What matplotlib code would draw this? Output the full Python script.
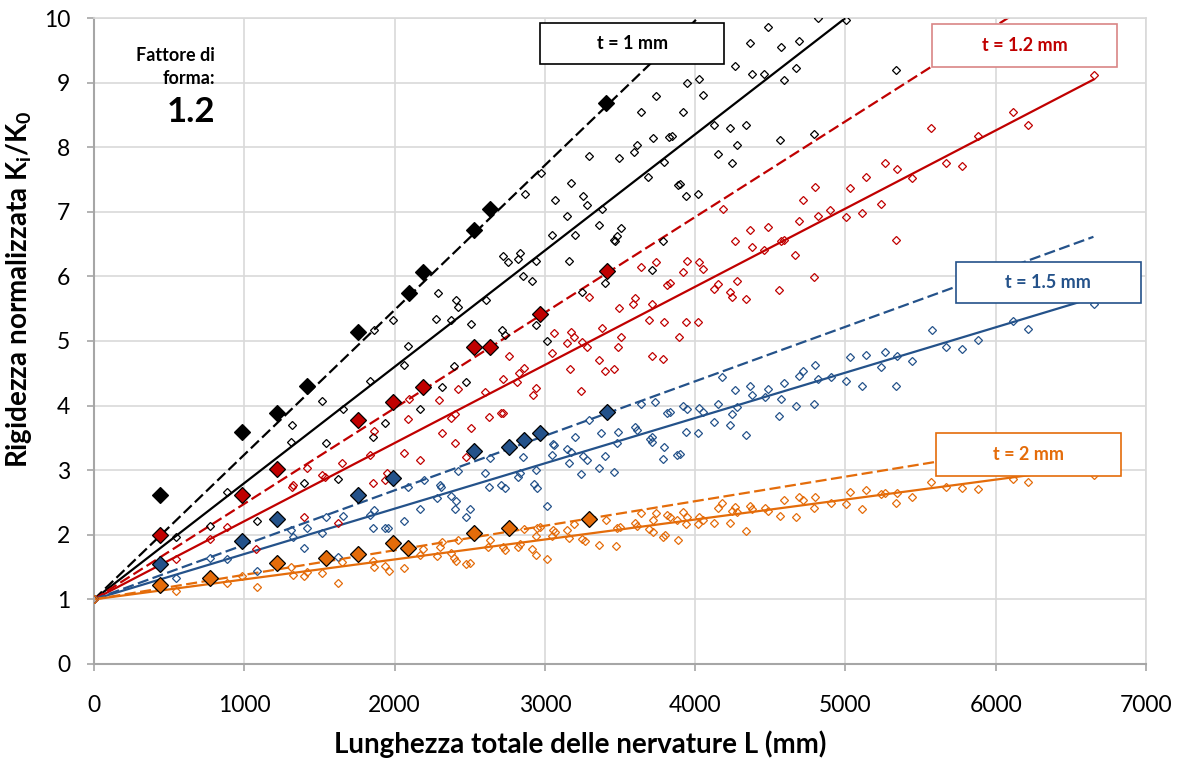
import numpy as np
import matplotlib
matplotlib.use("Agg")
import matplotlib.pyplot as plt
from matplotlib.patches import Rectangle

plt.rcParams['font.family'] = ['Lato', 'DejaVu Sans']
plt.rcParams['mathtext.default'] = 'regular'

# ---- data ----
# hollow points (all configurations)
blk_x = [0, 546, 772, 885, 1085, 1311, 1317, 1397, 1517, 1544, 1623, 1657, 1836, 1856, 1863, 1936, 1989,
         2063, 2089, 2169, 2276, 2289, 2315, 2375, 2395, 2409, 2422, 2475, 2508, 2608, 2715, 2721, 2735,
         2755, 2821, 2834, 2855, 2868, 2914, 2941, 2941, 2974, 3014, 3047, 3067, 3147, 3160, 3174, 3200,
         3247, 3253, 3280, 3293, 3360, 3380, 3400, 3460, 3467, 3480, 3493, 3506, 3593, 3613, 3639, 3686,
         3713, 3719, 3739, 3786, 3793, 3826, 3849, 3886, 3899, 3919, 3939, 3945, 4019, 4025, 4052, 4125,
         4152, 4232, 4245, 4265, 4278, 4338, 4365, 4378, 4458, 4484, 4564, 4571, 4591, 4671, 4691, 4790,
         4817, 5003, 5336]
blk_y = [1, 1.97, 2.14, 2.66, 2.21, 3.44, 3.70, 2.80, 4.07, 3.42, 2.86, 3.95, 4.38, 3.51, 5.17, 3.73, 5.32,
         4.63, 4.92, 3.95, 5.34, 5.74, 4.29, 5.32, 4.61, 5.63, 5.53, 4.37, 5.26, 5.63, 5.17, 6.32, 5.09,
         6.22, 6.27, 6.36, 6.01, 7.28, 5.93, 6.24, 5.25, 7.60, 5.00, 6.64, 7.18, 6.94, 6.24, 7.44, 6.64,
         5.76, 7.25, 7.10, 7.86, 6.79, 7.04, 5.90, 6.56, 6.55, 6.62, 7.83, 6.75, 7.93, 8.03, 8.54, 7.54,
         6.10, 8.14, 8.79, 6.55, 7.77, 8.16, 8.18, 7.41, 7.43, 8.54, 7.25, 9.00, 7.28, 9.06, 8.81, 8.35,
         7.89, 8.30, 7.75, 9.25, 8.03, 8.35, 9.61, 9.13, 9.14, 9.86, 8.11, 9.55, 9.04, 9.22, 9.64, 8.20,
         10.0, 9.97, 9.19]

red_x = [0, 546, 772, 885, 1078, 1317, 1324, 1397, 1417, 1517, 1537, 1623, 1650, 1836, 1856, 1863, 1936,
         1949, 2063, 2089, 2096, 2169, 2296, 2315, 2375, 2402, 2402, 2422, 2475, 2508, 2601, 2628, 2708,
         2721, 2721, 2761, 2814, 2828, 2861, 2921, 2941, 3047, 3060, 3147, 3167, 3174, 3193, 3240, 3247,
         3280, 3293, 3360, 3380, 3400, 3460, 3486, 3493, 3506, 3586, 3600, 3639, 3693, 3713, 3713, 3739,
         3786, 3793, 3813, 3833, 3893, 3919, 3939, 3945, 4019, 4025, 4052, 4125, 4152, 4185, 4232, 4245,
         4265, 4278, 4338, 4365, 4378, 4458, 4484, 4558, 4571, 4591, 4664, 4691, 4717, 4790, 4797, 4817,
         4897, 5003, 5030, 5110, 5136, 5236, 5263, 5336, 5343, 5443, 5569, 5669, 5775, 5882, 6114, 6214,
         6653]
red_y = [1, 1.63, 1.93, 2.12, 1.78, 2.74, 2.77, 2.28, 3.03, 2.93, 2.89, 2.18, 3.11, 3.24, 2.80, 3.61, 2.85,
         2.96, 3.27, 3.79, 4.10, 3.16, 4.09, 3.58, 3.81, 3.87, 3.42, 4.26, 3.20, 3.65, 4.21, 3.82, 3.89,
         3.89, 4.41, 4.77, 4.37, 4.50, 4.58, 4.16, 4.27, 4.81, 5.12, 4.97, 4.57, 5.14, 5.06, 4.23, 4.98,
         4.91, 5.68, 4.71, 5.20, 4.54, 4.57, 4.91, 5.51, 5.06, 5.57, 5.67, 6.15, 5.32, 5.57, 4.77, 6.22,
         4.72, 5.29, 5.87, 5.90, 5.06, 6.07, 5.29, 6.24, 5.29, 6.22, 6.11, 5.80, 5.88, 7.04, 5.76, 5.68,
         6.55, 5.93, 5.65, 6.72, 6.46, 6.41, 6.77, 5.79, 6.55, 6.56, 6.33, 6.86, 7.18, 5.99, 7.38, 6.94,
         7.03, 6.92, 7.37, 6.98, 7.54, 7.12, 7.76, 6.56, 7.66, 7.52, 8.30, 7.76, 7.71, 8.17, 8.54, 8.35,
         9.12]

blu_x = [0, 546, 772, 885, 1085, 1311, 1324, 1397, 1417, 1517, 1544, 1623, 1657, 1836, 1856, 1863, 1936,
         1956, 2063, 2089, 2169, 2196, 2282, 2302, 2309, 2375, 2402, 2409, 2422, 2475, 2502, 2601, 2628,
         2635, 2708, 2735, 2821, 2834, 2855, 2927, 2941, 2947, 3014, 3047, 3054, 3060, 3147, 3160, 3174,
         3200, 3240, 3253, 3280, 3293, 3360, 3373, 3400, 3460, 3480, 3486, 3600, 3613, 3639, 3699, 3713,
         3713, 3733, 3786, 3793, 3813, 3833, 3879, 3899, 3919, 3939, 3945, 4019, 4025, 4052, 4125, 4152,
         4178, 4232, 4245, 4265, 4278, 4338, 4365, 4378, 4464, 4484, 4558, 4571, 4591, 4671, 4691, 4717,
         4790, 4797, 4817, 4903, 5003, 5030, 5110, 5136, 5236, 5263, 5336, 5343, 5443, 5575, 5669, 5775,
         5882, 6114, 6214, 6653]
blu_y = [1, 1.33, 1.64, 1.63, 1.44, 2.07, 1.97, 1.80, 2.11, 2.03, 2.28, 1.66, 2.29, 2.31, 2.10, 2.38, 2.10,
         2.10, 2.21, 2.74, 2.40, 2.85, 2.57, 2.77, 2.74, 2.60, 2.40, 2.52, 2.99, 2.28, 2.40, 2.96, 2.74,
         3.19, 2.77, 2.72, 2.89, 2.96, 3.20, 2.79, 3.00, 2.72, 2.45, 3.24, 3.41, 3.39, 3.33, 3.11, 3.28,
         3.51, 2.94, 3.22, 3.16, 3.78, 3.03, 3.58, 3.22, 2.97, 3.42, 3.59, 3.67, 3.62, 4.02, 3.48, 3.51,
         3.44, 4.06, 3.17, 3.36, 3.89, 3.90, 3.24, 3.25, 3.99, 3.59, 3.95, 3.58, 3.96, 3.90, 3.75, 4.02,
         4.44, 3.70, 3.87, 4.24, 3.98, 3.54, 4.30, 4.16, 4.13, 4.26, 3.84, 4.10, 4.35, 3.99, 4.46, 4.54,
         4.02, 4.63, 4.41, 4.44, 4.38, 4.75, 4.30, 4.78, 4.60, 4.83, 4.30, 4.77, 4.69, 5.17, 4.91, 4.88,
         5.02, 5.31, 5.19, 5.57]

orn_x = [0, 546, 885, 985, 1085, 1311, 1324, 1397, 1417, 1517, 1623, 1650, 1856, 1863, 1936, 1963, 2063,
         2169, 2189, 2282, 2302, 2315, 2375, 2395, 2409, 2422, 2475, 2502, 2621, 2635, 2721, 2735, 2821,
         2834, 2861, 2914, 2941, 2941, 2947, 2967, 3014, 3047, 3054, 3067, 3147, 3160, 3193, 3247, 3267,
         3360, 3407, 3473, 3480, 3500, 3600, 3613, 3639, 3693, 3719, 3719, 3739, 3786, 3799, 3813, 3833,
         3879, 3886, 3919, 3939, 3945, 4019, 4025, 4052, 4125, 4152, 4178, 4232, 4245, 4265, 4278, 4338,
         4365, 4378, 4464, 4484, 4564, 4591, 4671, 4691, 4717, 4790, 4797, 4903, 5003, 5030, 5110, 5136,
         5236, 5263, 5336, 5343, 5443, 5569, 5669, 5775, 5882, 6114, 6214, 6653]
orn_y = [1, 1.13, 1.25, 1.36, 1.19, 1.50, 1.38, 1.36, 1.42, 1.41, 1.25, 1.58, 1.59, 1.50, 1.52, 1.44, 1.49,
         1.69, 1.78, 1.67, 1.81, 1.89, 1.72, 1.64, 1.59, 1.92, 1.55, 1.56, 1.81, 1.92, 1.81, 1.76, 1.81,
         1.86, 2.09, 1.78, 1.69, 1.98, 2.11, 2.12, 1.63, 1.98, 2.07, 2.04, 2.07, 1.95, 2.17, 1.93, 1.90,
         1.84, 2.23, 1.83, 2.11, 2.12, 2.18, 2.14, 2.34, 2.09, 2.23, 2.04, 2.34, 1.97, 2.00, 2.31, 2.28,
         2.23, 1.92, 2.35, 2.17, 2.28, 2.17, 2.28, 2.23, 2.18, 2.41, 2.49, 2.18, 2.37, 2.43, 2.35, 2.06,
         2.45, 2.40, 2.41, 2.37, 2.29, 2.54, 2.28, 2.58, 2.54, 2.41, 2.58, 2.49, 2.48, 2.66, 2.40, 2.69,
         2.63, 2.65, 2.49, 2.65, 2.59, 2.82, 2.74, 2.72, 2.71, 2.86, 2.82, 2.93]

# filled points (reference configurations)
blk_big_x = [439, 985, 1218, 1417, 1756, 2096, 2189, 2528, 2635, 3407]
blk_big_y = [2.62, 3.59, 3.88, 4.30, 5.14, 5.74, 6.07, 6.72, 7.04, 8.69]
red_big_x = [439, 985, 1218, 1756, 1989, 2189, 2528, 2635, 2967, 3413]
red_big_y = [2.00, 2.62, 3.02, 3.78, 4.06, 4.29, 4.90, 4.91, 5.42, 6.08]
blu_big_x = [439, 985, 1218, 1756, 1989, 2528, 2761, 2861, 2967, 3413]
blu_big_y = [1.55, 1.90, 2.24, 2.62, 2.88, 3.30, 3.36, 3.47, 3.57, 3.90]
orn_big_x = [439, 772, 1218, 1544, 1756, 1989, 2089, 2528, 2761, 3293]
orn_big_y = [1.22, 1.33, 1.56, 1.64, 1.70, 1.87, 1.80, 2.03, 2.11, 2.24]

# trend slopes (lines start at K/K0 = 1)
slope_all = [0.00180, 0.00121, 0.000702, 0.000309]
slope_big = [0.00224, 0.00148, 0.000844, 0.000380]

labels = ['t = 1 mm', 't = 1.2 mm', 't = 1.5 mm', 't = 2 mm']
colors = ['#000000', '#c00000', '#24528a', '#e46c0a']
box_edge = ['#000000', '#d98585', '#24528a', '#e46c0a']
# label boxes in axes fraction: x0, y0, w, h
boxes = [(0.424, 0.929, 0.175, 0.063), (0.797, 0.924, 0.175, 0.067),
         (0.819, 0.559, 0.176, 0.063), (0.800, 0.291, 0.176, 0.067)]

hx = [blk_x, red_x, blu_x, orn_x]
hy = [blk_y, red_y, blu_y, orn_y]
bx = [blk_big_x, red_big_x, blu_big_x, orn_big_x]
by = [blk_big_y, red_big_y, blu_big_y, orn_big_y]

fig = plt.figure(figsize=(11.81, 7.63), dpi=100)
ax = fig.add_axes([0.0796, 0.1298, 0.8908, 0.8466])

xl = np.array([0, 6650])
for i in range(4):
    c = colors[i]
    ax.plot(xl, 1 + slope_all[i] * xl, color=c, lw=1.6, zorder=2)
    ax.plot(xl, 1 + slope_big[i] * xl, color=c, lw=1.6, dashes=(5, 2), zorder=2)
    ax.plot(hx[i], hy[i], ls='none', marker='D', ms=4.4, mfc='none', mec=c, mew=0.9, zorder=3)
    ax.plot(bx[i], by[i], ls='none', marker='D', ms=7.8, mfc=c, mec='#000000', mew=0.9, zorder=4)

for i in range(4):
    x0, y0, w, h = boxes[i]
    ax.add_patch(Rectangle((x0, y0), w, h, transform=ax.transAxes, facecolor='white',
                           edgecolor=box_edge[i], lw=1.2, zorder=10, clip_on=False))
    ax.text(x0 + w / 2, y0 + h / 2, labels[i], transform=ax.transAxes, ha='center', va='center',
            fontsize=13, fontweight='bold', color=colors[i], zorder=11)

ax.text(805, 9.24, 'Fattore di\nforma:', ha='right', va='center', fontsize=13, fontweight='bold',
        multialignment='right', linespacing=1.45)
ax.text(805, 8.55, '1.2', ha='right', va='center', fontsize=25, fontweight='bold')

ax.set_xlim(0, 7000)
ax.set_ylim(0, 10)
ax.set_xticks(np.arange(0, 7001, 1000))
ax.set_yticks(np.arange(0, 11, 1))
ax.grid(True, color='#d9d9d9', lw=1.2, zorder=0)
ax.set_axisbelow(True)
for s in ['left', 'bottom']:
    ax.spines[s].set_color('#a6a6a6')
    ax.spines[s].set_linewidth(1.5)
for s in ['top', 'right']:
    ax.spines[s].set_color('#d9d9d9')
    ax.spines[s].set_linewidth(1.2)
ax.tick_params(direction='out', length=5, color='#a6a6a6', width=1.2, labelsize=16.5)
ax.tick_params(axis='x', pad=17)
ax.tick_params(axis='y', pad=12)

ax.set_xlabel('Lunghezza totale delle nervature L (mm)', fontsize=20, fontweight='bold')
ax.set_ylabel('Rigidezza normalizzata K$_i$/K$_0$', fontsize=20, fontweight='bold')
ax.xaxis.set_label_coords(0.462, -0.103)
ax.yaxis.set_label_coords(-0.057, 0.58)

fig.savefig('out.png', dpi=100)
